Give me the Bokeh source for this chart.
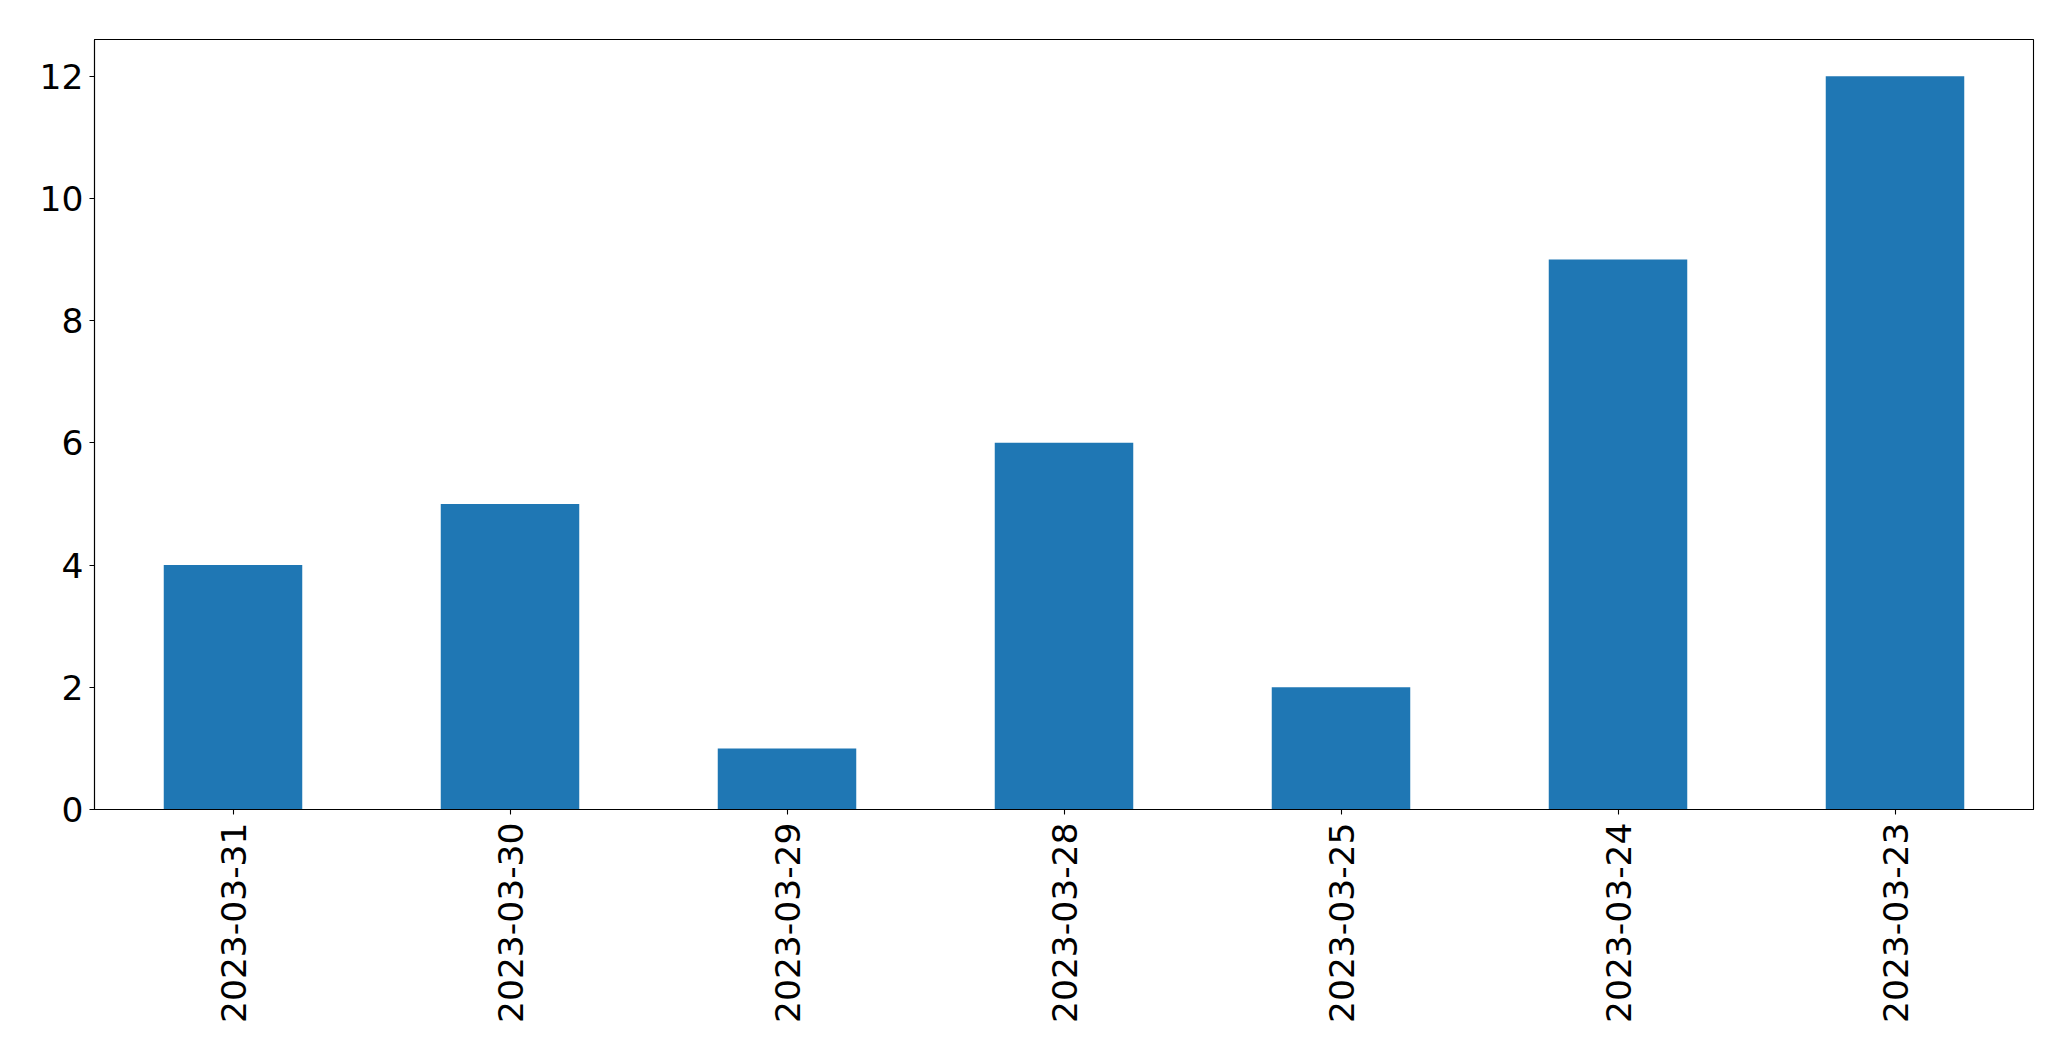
import math
from bokeh.plotting import figure
from bokeh.models import FactorRange, Range1d, FixedTicker, ColumnDataSource
from bokeh.embed import file_html
from bokeh.resources import INLINE

dates = ["2023-03-31", "2023-03-30", "2023-03-29", "2023-03-28",
         "2023-03-25", "2023-03-24", "2023-03-23"]
counts = [4, 5, 1, 6, 2, 9, 12]
y_ticks = [0, 2, 4, 6, 8, 10, 12]

src = ColumnDataSource(data=dict(x=dates, y=counts))

p = figure(width=2055, height=1045, output_backend="svg", toolbar_location=None,
           x_range=FactorRange(factors=dates, range_padding=0),
           y_range=Range1d(0, 12.6))
p.min_border_left = 94
p.min_border_top = 39
p.min_border_right = 22
p.min_border_bottom = 236

p.vbar(x="x", top="y", width=0.5, bottom=0, source=src,
       fill_color="#1f77b4", line_color=None)

p.xgrid.visible = False
p.ygrid.visible = False
p.outline_line_color = "black"
p.outline_line_width = 1.1
p.background_fill_color = "white"
p.border_fill_color = "white"

p.yaxis.ticker = FixedTicker(ticks=y_ticks)
for ax in (p.xaxis, p.yaxis):
    ax.axis_line_color = "black"
    ax.axis_line_width = 1.1
    ax.major_tick_line_color = "black"
    ax.major_tick_line_width = 1.1
    ax.major_tick_in = 0
    ax.major_tick_out = 5
    ax.minor_tick_line_color = None
    ax.major_label_text_font = "DejaVu Sans"
    ax.major_label_text_font_size = "34.5px"
    ax.major_label_text_color = "black"

p.xaxis.major_label_orientation = math.pi / 2
p.xaxis.major_label_standoff = 8
p.yaxis.major_label_standoff = 6

open("out.html", "w").write(file_html(p, INLINE))
